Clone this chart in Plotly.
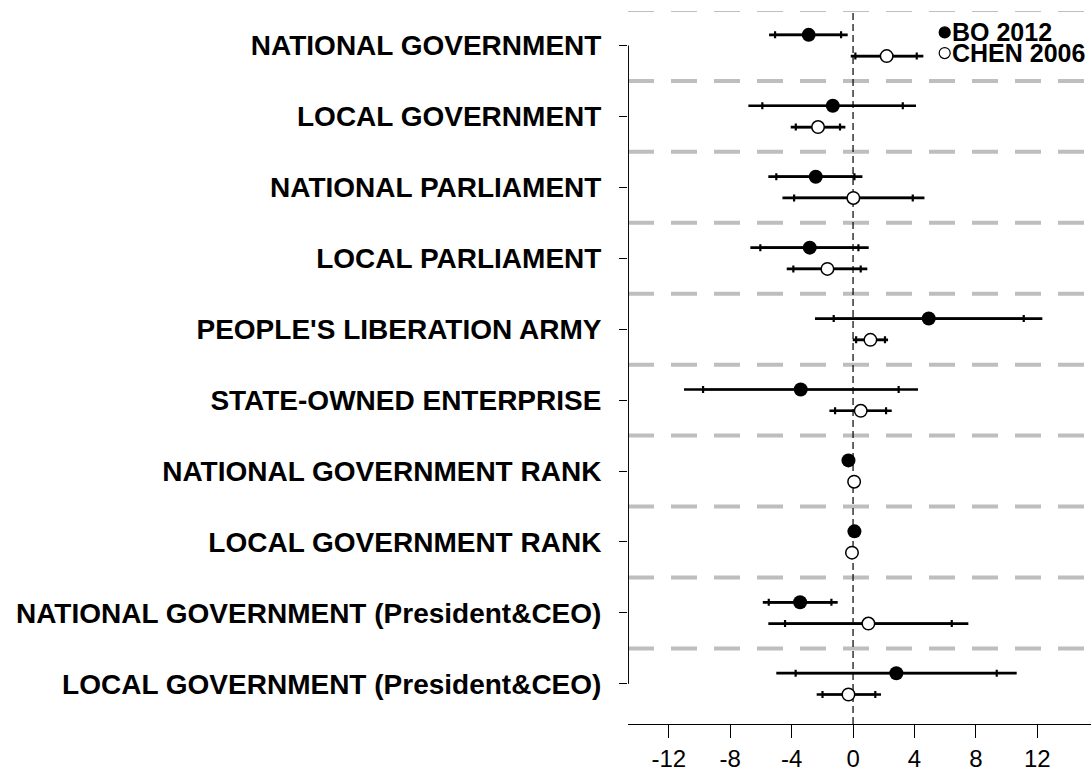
import plotly.graph_objects as go

# Institutions, listed top to bottom
categories = [
    "NATIONAL GOVERNMENT",
    "LOCAL GOVERNMENT",
    "NATIONAL PARLIAMENT",
    "LOCAL PARLIAMENT",
    "PEOPLE'S LIBERATION ARMY",
    "STATE-OWNED ENTERPRISE",
    "NATIONAL GOVERNMENT RANK",
    "LOCAL GOVERNMENT RANK",
    "NATIONAL GOVERNMENT (President&CEO)",
    "LOCAL GOVERNMENT (President&CEO)",
]

# BO 2012: point estimates with 90% and 95% intervals
bo_est  = [-2.89, -1.32, -2.43, -2.82,  4.93, -3.41, -0.30,  0.09, -3.45,  2.82]
bo_lo90 = [-5.08, -5.91, -5.00, -6.04, -1.26, -9.77, -0.38,  0.01, -5.49, -3.74]
bo_hi90 = [-0.78,  3.24,  0.09,  0.35, 11.12,  2.97, -0.22,  0.17, -1.41,  9.36]
bo_lo95 = [-5.47, -6.82, -5.52, -6.69, -2.48, -11.01, -0.40, -0.01, -5.88, -5.00]
bo_hi95 = [-0.35,  4.10,  0.61,  1.02, 12.33,  4.23, -0.20,  0.19, -1.00, 10.66]

# CHEN 2006: point estimates with 90% and 95% intervals
chen_est  = [ 2.19, -2.28,  0.02, -1.67,  1.13,  0.50,  0.07, -0.07,  1.00, -0.30]
chen_lo90 = [ 0.15, -3.73, -3.84, -3.89,  0.20, -1.17, -0.01, -0.15, -4.43, -1.99]
chen_hi90 = [ 4.15, -0.85,  3.89,  0.50,  2.08,  2.15,  0.15,  0.01,  6.43,  1.45]
chen_lo95 = [-0.15, -4.06, -4.60, -4.32, -0.02, -1.54, -0.03, -0.17, -5.52, -2.37]
chen_hi95 = [ 4.58, -0.50,  4.65,  0.93,  2.28,  2.52,  0.17,  0.03,  7.51,  1.82]

x_ticks = [-12, -8, -4, 0, 4, 8, 12]
series_names = ["BO 2012", "CHEN 2006"]

FONT = "Liberation Sans, Arial, sans-serif"
n = len(categories)
positions = [n - i for i in range(n)]          # 10 .. 1, top to bottom
OFFSET = 0.15
X_RANGE = [-14.66, 15.50]
Y_RANGE = [0.434, 10.486]

fig = go.Figure()


def add_series(est, lo90, hi90, lo95, hi95, dy, filled):
    ys = [p + dy for p in positions]
    # 95% interval: plain line
    fig.add_trace(go.Scatter(
        x=est, y=ys, mode="markers",
        marker=dict(size=1, color="rgba(0,0,0,0)"),
        error_x=dict(type="data", symmetric=False,
                     array=[h - e for h, e in zip(hi95, est)],
                     arrayminus=[e - l for e, l in zip(est, lo95)],
                     color="black", thickness=2.7, width=0),
        hoverinfo="skip", showlegend=False,
    ))
    # 90% interval: short ticks at the ends
    fig.add_trace(go.Scatter(
        x=est, y=ys, mode="markers",
        marker=dict(size=1, color="rgba(0,0,0,0)"),
        error_x=dict(type="data", symmetric=False,
                     array=[h - e for h, e in zip(hi90, est)],
                     arrayminus=[e - l for e, l in zip(est, lo90)],
                     color="black", thickness=2.2, width=3.5),
        hoverinfo="skip", showlegend=False,
    ))
    # point estimates
    if filled:
        marker = dict(symbol="circle", size=14, color="black",
                      line=dict(color="black", width=0))
    else:
        marker = dict(symbol="circle", size=12.5, color="white",
                      line=dict(color="black", width=1.5))
    fig.add_trace(go.Scatter(x=est, y=ys, mode="markers", marker=marker,
                             showlegend=False))


add_series(bo_est, bo_lo90, bo_hi90, bo_lo95, bo_hi95, OFFSET, True)
add_series(chen_est, chen_lo90, chen_hi90, chen_lo95, chen_hi95, -OFFSET, False)

shapes = []
# grey separators between institutions
for k in range(n):
    yv = positions[k] + 0.5
    shapes.append(dict(type="line", xref="paper", yref="y", x0=0, x1=1,
                       y0=yv, y1=yv, layer="below",
                       line=dict(color="#BEBEBE", width=4, dash="26px,17px")))
# reference line at zero
shapes.append(dict(type="line", xref="x", yref="paper", x0=0, x1=0, y0=0, y1=1,
                   layer="below", line=dict(color="black", width=1.2, dash="7px,4px")))
# left axis line spanning the category ticks
shapes.append(dict(type="line", xref="x", yref="y", x0=-14.63, x1=-14.63,
                   y0=positions[-1], y1=positions[0],
                   line=dict(color="black", width=1)))

# legend symbols
legend_x = 0.684
legend_y = [0.970, 0.941]
for yy, filled in zip(legend_y, [True, False]):
    shapes.append(dict(type="circle", xref="paper", yref="paper",
                       xsizemode="pixel", ysizemode="pixel",
                       xanchor=legend_x, yanchor=yy,
                       x0=-5.5, x1=5.5, y0=-5.5, y1=5.5,
                       fillcolor="black" if filled else "white",
                       line=dict(color="black", width=1.2)))

annotations = []
for yy, name in zip(legend_y, series_names):
    annotations.append(dict(xref="paper", yref="paper", x=0.698, y=yy,
                            xanchor="left", yanchor="middle", showarrow=False,
                            text=name, borderpad=0,
                            font=dict(family=FONT, size=25, color="black",
                                      weight="bold")))

fig.update_layout(
    width=1091, height=772,
    margin=dict(l=628, r=0, t=11, b=44),
    paper_bgcolor="white", plot_bgcolor="white",
    showlegend=False,
    shapes=shapes, annotations=annotations,
    xaxis=dict(range=X_RANGE, tickvals=x_ticks,
               ticktext=[str(v) for v in x_ticks],
               ticks="outside", ticklen=13, tickwidth=1, tickcolor="black",
               showline=True, linecolor="black", linewidth=1,
               showgrid=False, zeroline=False,
               tickfont=dict(family=FONT, size=24, color="black")),
    yaxis=dict(range=Y_RANGE, tickvals=positions, ticktext=categories,
               ticks="outside", ticklen=8, tickwidth=1, tickcolor="black",
               ticklabelstandoff=12,
               showline=False, showgrid=False, zeroline=False,
               tickfont=dict(family=FONT, size=28, color="black", weight="bold")),
)

fig.write_html("out.html")
